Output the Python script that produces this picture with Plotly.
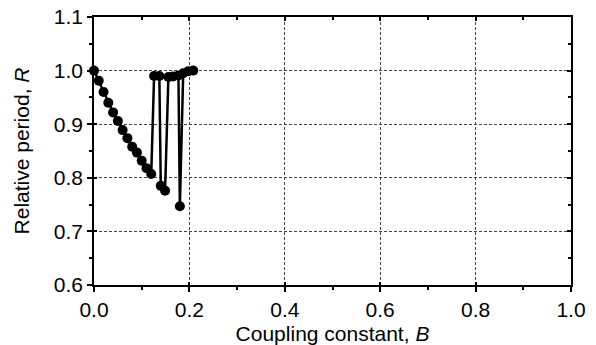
import plotly.graph_objects as go

# Data
coupling_B = [0.0, 0.01, 0.02, 0.03, 0.04, 0.05, 0.06, 0.07, 0.08, 0.09, 0.10, 0.11, 0.12,
              0.126, 0.137, 0.14, 0.149, 0.156, 0.166, 0.177, 0.18, 0.187, 0.198, 0.208]
relative_R = [1.0, 0.981, 0.96, 0.94, 0.922, 0.906, 0.889, 0.874, 0.858, 0.847, 0.832, 0.818, 0.807,
              0.99, 0.99, 0.785, 0.776, 0.988, 0.989, 0.991, 0.747, 0.995, 0.999, 1.0]

x_ticks = [0.0, 0.2, 0.4, 0.6, 0.8, 1.0]
x_tick_labels = ["0.0", "0.2", "0.4", "0.6", "0.8", "1.0"]
y_ticks = [0.6, 0.7, 0.8, 0.9, 1.0, 1.1]
y_tick_labels = ["0.6", "0.7", "0.8", "0.9", "1.0", "1.1"]

FONT = "Liberation Sans, Arial, sans-serif"
FS = 21

fig = go.Figure()
fig.add_trace(go.Scatter(
    x=coupling_B, y=relative_R, mode="lines+markers",
    line=dict(color="black", width=2.5),
    marker=dict(color="black", size=10),
    showlegend=False, cliponaxis=False,
))
# dummy traces to anchor the mirror / cross-tick axes
fig.add_trace(go.Scatter(x=[None], y=[None], xaxis="x2", yaxis="y2", showlegend=False, hoverinfo="skip"))
fig.add_trace(go.Scatter(x=[None], y=[None], xaxis="x3", yaxis="y3", showlegend=False, hoverinfo="skip"))

grid = dict(showgrid=True, gridcolor="#444444", gridwidth=1, griddash="3px,2px")
axline = dict(showline=True, linecolor="black", linewidth=1.5, zeroline=False)

fig.update_layout(
    width=596, height=345,
    margin=dict(l=94, r=25, t=17, b=60, autoexpand=False),
    paper_bgcolor="white", plot_bgcolor="white",
    font=dict(family=FONT, size=FS, color="black"),
    xaxis=dict(
        range=[0, 1], tickvals=x_ticks, ticktext=x_tick_labels,
        ticks="outside", ticklen=5, tickwidth=1.5, tickcolor="black",
        minor=dict(dtick=0.1, tick0=0, ticks="outside", ticklen=3, tickwidth=1.5, tickcolor="black", showgrid=False),
        title=dict(text="Coupling constant, <i>B</i>", standoff=6, font=dict(size=FS)),
        tickfont=dict(size=FS), automargin=False,
        **grid, **axline,
    ),
    yaxis=dict(
        range=[0.6, 1.1], tickvals=y_ticks, ticktext=y_tick_labels,
        ticks="outside", ticklen=5, tickwidth=1.5, tickcolor="black",
        minor=dict(dtick=0.05, tick0=0.6, ticks="outside", ticklen=3, tickwidth=1.5, tickcolor="black", showgrid=False),
        title=dict(text="Relative period, <i>R</i>", standoff=18, font=dict(size=FS)),
        tickfont=dict(size=FS), automargin=False,
        **grid, **axline,
    ),
    xaxis2=dict(
        overlaying="x", side="top", range=[0, 1], tickvals=x_ticks, showticklabels=False,
        ticks="inside", ticklen=4, tickwidth=1.5, tickcolor="black",
        minor=dict(dtick=0.1, tick0=0, ticks="inside", ticklen=3, tickwidth=1.5, tickcolor="black"),
        showgrid=False, anchor="y2", **axline,
    ),
    yaxis2=dict(
        overlaying="y", side="right", range=[0.6, 1.1], tickvals=y_ticks, showticklabels=False,
        ticks="inside", ticklen=4, tickwidth=1.5, tickcolor="black",
        minor=dict(dtick=0.05, tick0=0.6, ticks="inside", ticklen=3, tickwidth=1.5, tickcolor="black"),
        showgrid=False, anchor="x2", **axline,
    ),
    xaxis3=dict(
        overlaying="x", side="bottom", range=[0, 1], tickvals=x_ticks, showticklabels=False,
        ticks="inside", ticklen=3, tickwidth=1.5, tickcolor="black",
        showgrid=False, showline=False, zeroline=False, anchor="y3",
    ),
    yaxis3=dict(
        overlaying="y", side="left", range=[0.6, 1.1], tickvals=y_ticks, showticklabels=False,
        ticks="inside", ticklen=3, tickwidth=1.5, tickcolor="black",
        showgrid=False, showline=False, zeroline=False, anchor="x3",
    ),
)

fig.write_html("out.html")
